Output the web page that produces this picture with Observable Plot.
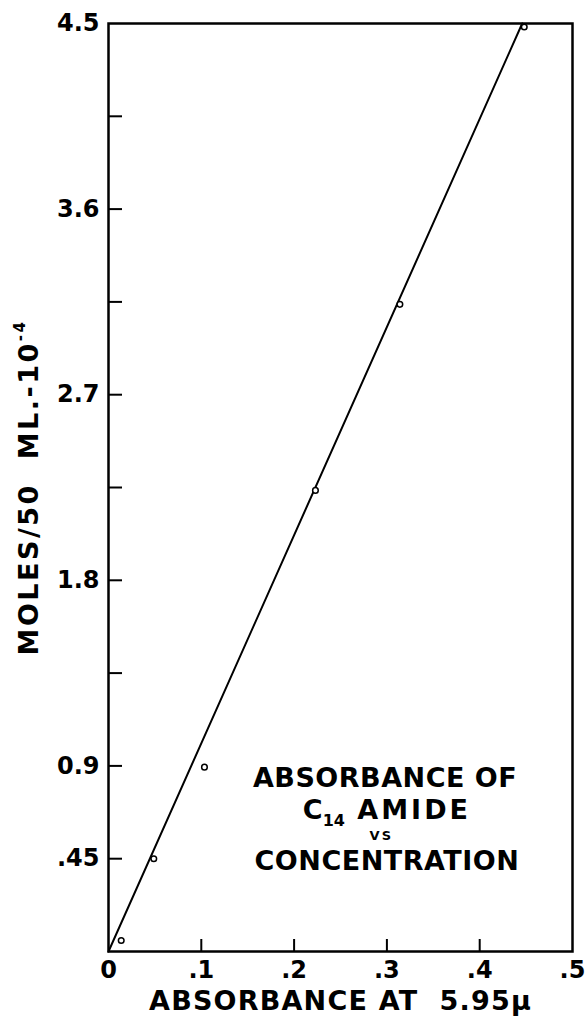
<!DOCTYPE html>
<html>
<head>
<meta charset="utf-8">
<script src="https://cdn.jsdelivr.net/npm/d3@7"></script>
<script src="https://cdn.jsdelivr.net/npm/@observablehq/plot@0.6"></script>
<style>
  html, body { margin: 0; padding: 0; background: #fff; }
</style>
</head>
<body>
<div id="chart"></div>
<script>
// Measured points (absorbance, moles/50 mL ×10^-4)
const pointX = [0.0137, 0.0488, 0.1034, 0.223, 0.314, 0.448];
const pointY = [0.053, 0.45, 0.894, 2.236, 3.138, 4.483];
// Fitted straight line end points
const lineX = [0, 0.4458];
const lineY = [0, 4.5];
// Axis ticks and labels
const xTicks = [0, 0.1, 0.2, 0.3, 0.4, 0.5];
const xTickLabels = ["0", ".1", ".2", ".3", ".4", ".5"];
const xInnerTicks = [0.1, 0.2, 0.3, 0.4];
const yTicks = [0.45, 0.9, 1.8, 2.7, 3.6, 4.5];
const yTickLabels = [".45", "0.9", "1.8", "2.7", "3.6", "4.5"];
const yInnerTicks = [0.45, 0.9, 1.35, 1.8, 2.25, 2.7, 3.15, 3.6, 4.05];
// Annotation lines
const noteLines = ["ABSORBANCE OF", "C14 AMIDE", "VS", "CONCENTRATION"];
const noteX = [0.298, 0.30, 0.294, 0.3];
const noteY = [0.84, 0.685, 0.56, 0.435];
const noteSize = [27, 27, 13, 27];
const xLabel = "ABSORBANCE AT  5.95\u03bc";
const yLabel = "MOLES/50  ML.-10";

const FONT = "DejaVu Sans";
const pts = pointX.map((x, i) => ({x, y: pointY[i]}));
const line = lineX.map((x, i) => ({x, y: lineY[i]}));
const notes = noteLines.map((t, i) => ({t, x: noteX[i], y: noteY[i], s: noteSize[i]}));
const xFmt = d => xTickLabels[xTicks.indexOf(d)];
const yFmt = d => yTickLabels[yTicks.indexOf(d)];

const plot = Plot.plot({
  width: 585,
  height: 1024,
  marginLeft: 108,
  marginRight: 13,
  marginTop: 23,
  marginBottom: 73,
  style: {fontFamily: FONT, fontWeight: "bold", color: "#000", background: "#fff"},
  x: {domain: [0, 0.5]},
  y: {domain: [0, 4.5]},
  marks: [
    Plot.frame({stroke: "#000", strokeWidth: 2.5}),
    Plot.axisX({ticks: xInnerTicks, tickSize: -12, strokeWidth: 2, tickFormat: () => "", label: null}),
    Plot.axisY({ticks: yInnerTicks, tickSize: -14, strokeWidth: 2, tickFormat: () => "", label: null}),
    Plot.axisX({ticks: xTicks, tickSize: 0, tickPadding: 9, tickFormat: xFmt, fontSize: 24, fontWeight: "bold", fill: "#000",
      label: xLabel, labelAnchor: "center", labelOffset: 58, labelArrow: "none"}),
    Plot.axisY({ticks: yTicks, tickSize: 0, tickPadding: 9, tickFormat: yFmt, fontSize: 24, fontWeight: "bold", fill: "#000",
      label: yLabel, labelAnchor: "center", labelOffset: 90, labelArrow: "none"}),
    Plot.line(line, {x: "x", y: "y", stroke: "#000", strokeWidth: 2}),
    Plot.dot(pts, {x: "x", y: "y", r: 2.8, stroke: "#000", strokeWidth: 1.5, fill: "#fff"}),
    Plot.text(notes, {x: "x", y: "y", text: "t", fontSize: "s", fontWeight: "bold", fill: "#000", textAnchor: "middle", fontFamily: FONT})
  ]
});

document.getElementById("chart").appendChild(plot);

// letter spacing and sub/superscripts
const svg = d3.select(plot);
svg.selectAll("text").each(function() {
  const el = d3.select(this);
  const txt = this.textContent.replace(/[\u2191\u2192]/g, "").trim();
  if (txt === "C14 AMIDE") {
    el.text("");
    el.append("tspan").text("C");
    el.append("tspan").attr("font-size", 16).attr("dy", 7).text("14");
    el.append("tspan").attr("dy", -7).attr("letter-spacing", 3).text(" AMIDE");
  } else if (txt === yLabel.trim() || txt.startsWith("MOLES")) {
    el.text("");
    el.attr("font-size", 27).attr("letter-spacing", 2.5);
    el.append("tspan").text(yLabel);
    el.append("tspan").attr("font-size", 15).attr("dy", -13).text("-4");
  } else if (txt.startsWith("ABSORBANCE AT")) {
    el.text(xLabel);
    el.attr("font-size", 27).attr("letter-spacing", 1.2);
  } else if (txt === "ABSORBANCE OF" || txt === "CONCENTRATION") {
    el.attr("letter-spacing", 0.5);
  } else if (txt === "VS") {
    el.attr("letter-spacing", 2);
  }
});
</script>
</body>
</html>
